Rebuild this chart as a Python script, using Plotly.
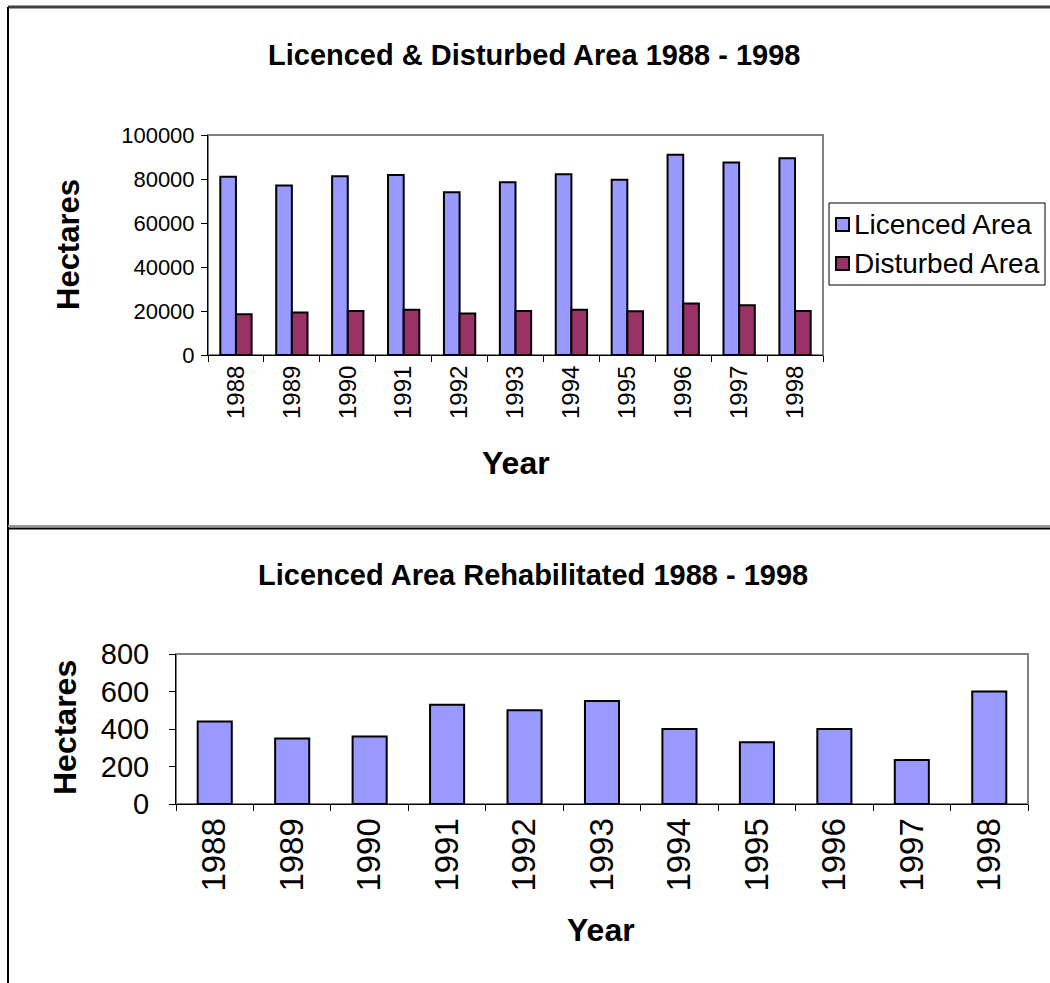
import plotly.graph_objects as go

W, H = 1050, 983

years = ["1988", "1989", "1990", "1991", "1992", "1993", "1994", "1995", "1996", "1997", "1998"]
licenced_area = [81000, 77000, 81300, 81800, 74000, 78500, 82200, 79700, 91000, 87500, 89400]
disturbed_area = [18500, 19300, 20000, 20600, 18900, 20000, 20600, 19900, 23400, 22600, 20000]
rehabilitated = [440, 350, 360, 530, 500, 550, 400, 330, 400, 235, 600]
legend_labels = ["Licenced Area", "Disturbed Area"]

FONT = "Arial, 'Liberation Sans', sans-serif"
C_LIC = "#9999FF"
C_DIST = "#993366"


def px(x):
    return x / W


def py(y):
    return 1 - y / H


fig = go.Figure()

fig.add_trace(go.Bar(x=years, y=licenced_area, name=legend_labels[0], showlegend=False,
                     marker=dict(color=C_LIC, line=dict(color="black", width=2)),
                     xaxis="x", yaxis="y"))
fig.add_trace(go.Bar(x=years, y=disturbed_area, name=legend_labels[1], showlegend=False,
                     marker=dict(color=C_DIST, line=dict(color="black", width=2)),
                     xaxis="x", yaxis="y"))
fig.add_trace(go.Bar(x=years, y=rehabilitated, name="Rehabilitated", showlegend=False,
                     marker=dict(color=C_LIC, line=dict(color="black", width=2)),
                     xaxis="x2", yaxis="y2", width=0.44))

axis_common = dict(showgrid=False, zeroline=False, showline=True, linecolor="black",
                   linewidth=1, ticks="outside", tickcolor="black", ticklen=6, tickwidth=1,
                   automargin=False)

fig.update_layout(
    width=W, height=H, autosize=False,
    margin=dict(l=0, r=0, t=0, b=0, pad=0, autoexpand=False),
    paper_bgcolor="white", plot_bgcolor="white",
    barmode="group", bargap=0.44, bargroupgap=0,
    font=dict(family=FONT, color="black"),
    showlegend=False,
    xaxis=dict(domain=[px(208), px(823)], anchor="y", type="category",
               tickson="boundaries", tickangle=-90, tickfont=dict(size=24),
               **axis_common),
    yaxis=dict(domain=[py(355), py(135)], anchor="x", range=[0, 100000], dtick=20000,
               tickfont=dict(size=22), tickformat="d", ticklabelstandoff=2, **axis_common),
    xaxis2=dict(domain=[px(176), px(1028)], anchor="y2", type="category",
                tickson="boundaries", tickangle=-90, tickfont=dict(size=33),
                **axis_common),
    yaxis2=dict(domain=[py(804), py(654)], anchor="x2", range=[0, 800], dtick=200,
                tickfont=dict(size=29), ticklabelstandoff=14, **axis_common),
)

shapes = [
    # plot area borders (gray)
    dict(type="rect", xref="x domain", yref="y domain", x0=0, x1=1, y0=0, y1=1,
         line=dict(color="#808080", width=2), layer="below"),
    dict(type="rect", xref="x2 domain", yref="y2 domain", x0=0, x1=1, y0=0, y1=1,
         line=dict(color="#808080", width=2), layer="below"),
    # outer frame
    dict(type="line", xref="paper", yref="paper", x0=px(8), x1=1, y0=py(7), y1=py(7),
         line=dict(color="#404040", width=3)),
    dict(type="line", xref="paper", yref="paper", x0=px(8), x1=px(8), y0=py(7), y1=0,
         line=dict(color="black", width=2)),
    dict(type="line", xref="paper", yref="paper", x0=px(8), x1=1, y0=py(526), y1=py(526),
         line=dict(color="#999999", width=2)),
    dict(type="line", xref="paper", yref="paper", x0=px(8), x1=1, y0=py(528.5), y1=py(528.5),
         line=dict(color="black", width=2)),
    # legend box
    dict(type="rect", xref="paper", yref="paper", x0=px(829), x1=px(1045), y0=py(285), y1=py(203),
         line=dict(color="black", width=1), fillcolor="white"),
    # legend swatches
    dict(type="rect", xref="paper", yref="paper", x0=px(836), x1=px(849), y0=py(231), y1=py(218),
         line=dict(color="black", width=2), fillcolor=C_LIC),
    dict(type="rect", xref="paper", yref="paper", x0=px(836), x1=px(849), y0=py(270), y1=py(257),
         line=dict(color="black", width=2), fillcolor=C_DIST),
]

annotations = [
    dict(text="<b>Licenced & Disturbed Area 1988 - 1998</b>", x=px(534), y=py(55),
         font=dict(size=29)),
    dict(text="<b>Hectares</b>", x=px(68), y=py(245), textangle=-90, font=dict(size=31)),
    dict(text="<b>Year</b>", x=px(516), y=py(463), font=dict(size=32)),
    dict(text="<b>Licenced Area Rehabilitated 1988 - 1998</b>", x=px(533), y=py(575),
         font=dict(size=29)),
    dict(text="<b>Hectares</b>", x=px(65), y=py(728), textangle=-90, font=dict(size=32)),
    dict(text="<b>Year</b>", x=px(601), y=py(930), font=dict(size=32)),
    dict(text=legend_labels[0], x=px(852), y=py(224), xanchor="left", font=dict(size=28)),
    dict(text=legend_labels[1], x=px(852), y=py(263), xanchor="left", font=dict(size=28)),
]
for a in annotations:
    a.setdefault("xanchor", "center")
    a.update(xref="paper", yref="paper", showarrow=False, yanchor="middle")
    a["font"]["family"] = FONT
    a["font"]["color"] = "black"

fig.update_layout(shapes=shapes, annotations=annotations)

fig.write_html("out.html", config={"displayModeBar": False},
               post_script="document.body.style.margin='0';document.body.style.overflow='hidden';")
